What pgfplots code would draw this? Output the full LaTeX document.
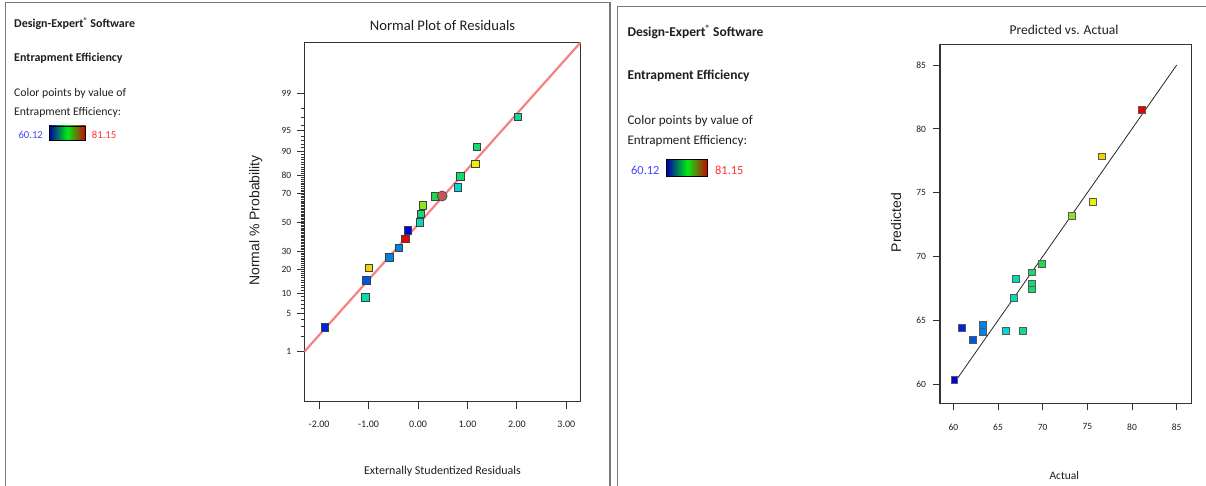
\documentclass[border=0pt]{standalone}
\usepackage{pgfplots}
\pgfplotsset{compat=1.18}
\usepackage{fontspec}
\setmainfont{Carlito}
\newfontfamily\arialfont{Liberation Sans}
\definecolor{txt}{RGB}{30,30,30}
\definecolor{frame}{RGB}{120,120,120}
\definecolor{salmon}{RGB}{245,130,130}
\definecolor{lblue}{RGB}{70,70,255}
\definecolor{lred}{RGB}{255,50,50}
\definecolor{circ}{RGB}{190,90,90}
\definecolor{cbL}{RGB}{0,0,170}
\definecolor{cbM}{RGB}{0,235,20}
\definecolor{cbR}{RGB}{210,0,0}
\pgfplotsset{
  colormap={de}{rgb255=(0,0,225) rgb255=(0,215,230) rgb255=(30,220,50) rgb255=(245,240,0) rgb255=(235,0,0)},
}
\newcommand{\fs}[1]{\fontsize{#1}{#1}\selectfont}
\newcommand{\reg}[1]{\raisebox{0.3em}{\fs{#1}®}}
\begin{document}
\begin{tikzpicture}
\useasboundingbox (0pt,0pt) rectangle (1206pt,-486pt);
% panel frames
\draw[line width=1.3pt, frame] (5.5pt,-490pt) -- (5.5pt,-2.7pt) -- (610pt,-2.7pt) -- (610pt,-490pt);
\draw[line width=1.3pt, frame] (617.5pt,-490pt) -- (617.5pt,-6.7pt) -- (1210pt,-6.7pt);

% ---------- left text block ----------
\node[anchor=west, inner sep=0, txt, font=\fs{12}\bfseries] at (14pt,-23.8pt) {Design-Expert\reg{8} Software};
\node[anchor=west, inner sep=0, txt, font=\fs{12}\bfseries] at (14pt,-58.7pt) {Entrapment Efficiency};
\node[anchor=west, inner sep=0, txt, font=\fs{11.7}] at (14pt,-93.5pt) {Color points by value of};
\node[anchor=west, inner sep=0, txt, font=\fs{11.7}] at (14pt,-112pt) {Entrapment Efficiency:};
\node[anchor=west, inner sep=0, lblue, font=\fs{10.7}] at (18.3pt,-134.7pt) {60.12};
\shade[left color=cbL, right color=cbR, middle color=cbM] (49pt,-126pt) rectangle (85.7pt,-140pt);
\draw[line width=0.8pt, black] (49pt,-126pt) rectangle (85.7pt,-140pt);
\node[anchor=west, inner sep=0, lred, font=\fs{10.7}] at (91.7pt,-134.7pt) {81.15};

% ---------- right text block ----------
\node[anchor=west, inner sep=0, txt, font=\fs{13.5}\bfseries] at (627.3pt,-32pt) {Design-Expert\reg{9} Software};
\node[anchor=west, inner sep=0, txt, font=\fs{13.5}\bfseries] at (627.3pt,-75.8pt) {Entrapment Efficiency};
\node[anchor=west, inner sep=0, txt, font=\fs{13.1}] at (627.3pt,-120.8pt) {Color points by value of};
\node[anchor=west, inner sep=0, txt, font=\fs{13.1}] at (627.3pt,-141.5pt) {Entrapment Efficiency:};
\node[anchor=west, inner sep=0, lblue, font=\fs{12.4}] at (631pt,-170pt) {60.12};
\shade[left color=cbL, right color=cbR, middle color=cbM] (666.7pt,-159.5pt) rectangle (707.7pt,-176pt);
\draw[line width=0.8pt, black] (666.7pt,-159.5pt) rectangle (707.7pt,-176pt);
\node[anchor=west, inner sep=0, lred, font=\fs{12.4}] at (715pt,-170pt) {81.15};

% ---------- left plot ----------
\begin{axis}[
  at={(304.3pt,-401.7pt)}, anchor=south west,
  scale only axis, width=276.4pt, height=359.4pt,
  xmin=-2.30, xmax=3.29, ymin=-3.23, ymax=3.24,
  axis line style={line width=1.2pt, black!80},
  tick align=outside, tick pos=left,
  major tick length=7pt, minor tick length=3.5pt,
  tick style={line width=0.9pt, black!80},
  major tick style={line width=0.9pt, black!80},
  minor tick style={line width=0.7pt, black!80},
  xtick={-2,-1,0,1,2,3},
  xticklabels={-2.00,-1.00,0.00,1.00,2.00,3.00},
  ytick={-2.3263,-1.6449,-1.2816,-0.8416,-0.5244,0,0.5244,0.8416,1.2816,1.6449,2.3263},
  yticklabels={1,5,10,20,30,50,70,80,90,95,99},
  minor ytick={-2.0537,-1.8808,-1.7507,-1.5548,-1.4758,-1.4051,-1.3408,
    -1.2265,-1.1750,-1.1264,-1.0803,-1.0364,-0.9945,-0.9542,-0.9154,-0.8779,
    -0.8064,-0.7722,-0.7388,-0.7063,-0.6745,-0.6433,-0.6128,-0.5828,-0.5534,
    -0.4959,-0.4677,-0.4399,-0.4125,-0.3853,-0.3585,-0.3319,-0.3055,-0.2793,-0.2533,-0.2275,-0.2019,-0.1764,-0.1510,-0.1257,-0.1004,-0.0753,-0.0502,-0.0251,
    0.0251,0.0502,0.0753,0.1004,0.1257,0.1510,0.1764,0.2019,0.2275,0.2533,0.2793,0.3055,0.3319,0.3585,0.3853,0.4125,0.4399,0.4677,0.4959,
    0.5534,0.5828,0.6128,0.6433,0.6745,0.7063,0.7388,0.7722,0.8064,
    0.8779,0.9154,0.9542,0.9945,1.0364,1.0803,1.1264,1.1750,1.2265,
    1.3408,1.4051,1.4758,1.5548,1.7507,1.8808,2.0537},
  xticklabel style={font=\fs{10}, text=txt, yshift=-9pt},
  yticklabel style={font=\fs{9.5}, text=txt, xshift=-2.5pt},
  colormap name=de, point meta min=60.12, point meta max=81.15,
  clip=true,
]
\addplot[salmon, line width=2.2pt] coordinates {(-2.30,-2.33) (3.29,3.24)};
\addplot[scatter, only marks, mark=square*, mark size=3.7pt, point meta=explicit,
  scatter/use mapped color={draw=black!75, fill=mapped color}, line width=0.9pt]
 coordinates {
 (-1.878,-1.894) [60.94]
 (-1.067,-1.356) [66.98]
 (-1.047,-1.050) [62.20]
 (-0.993,-0.827) [76.60]
 (-0.580,-0.630) [63.32]
 (-0.385,-0.462) [63.32]
 (-0.256,-0.300) [81.14]
 (-0.209,-0.145) [60.12]
 (0.041,0.000) [66.79]
 (0.055,0.145) [68.84]
 (0.095,0.300) [73.28]
 (0.353,0.462) [69.92]
 (0.805,0.630) [65.93]
 (0.860,0.827) [68.84]
 (1.164,1.050) [75.63]
 (1.190,1.356) [68.84]
 (2.016,1.894) [67.76]
 };
\addplot[only marks, mark=*, mark size=5pt, mark options={fill=circ, draw=black!70, line width=0.8pt}]
 coordinates {(0.487,0.473)};
\end{axis}
\node[txt, font=\fs{14.6}] at (442.5pt,-25.7pt) {Normal Plot of Residuals};
\node[txt, font=\fs{12}] at (442.5pt,-471.7pt) {Externally Studentized Residuals};
\node[txt, font=\arialfont\fs{14}, rotate=90] at (255.7pt,-220.5pt) {Normal \% Probability};

% ---------- right plot ----------
\begin{axis}[
  at={(940pt,-403.3pt)}, anchor=south west,
  scale only axis, width=251.7pt, height=359pt,
  xmin=58.51, xmax=86.68, ymin=58.51, ymax=86.62,
  axis line style={line width=1.2pt, black!80},
  tick align=outside, tick pos=left,
  major tick length=7pt,
  tick style={line width=0.9pt, black!80},
  major tick style={line width=0.9pt, black!80},
  xtick={60,65,70,75,80,85}, ytick={60,65,70,75,80,85},
  /pgf/number format/assume math mode=true,
  ticklabel style={font=\fs{9.5}, text=txt},
  xticklabel style={yshift=-10pt},
  yticklabel style={xshift=-3.5pt},
  colormap name=de, point meta min=60.12, point meta max=81.15,
]
\addplot[scatter, only marks, mark=square*, mark size=3.4pt, point meta=x,
  scatter/use mapped color={draw=black!65, fill=mapped color}, line width=0.9pt]
 coordinates {
 (60.12,60.34) (60.94,64.41) (62.20,63.44) (63.32,64.62) (63.32,64.09)
 (65.93,64.17) (66.79,66.78) (66.98,68.24) (67.76,64.17) (68.84,68.76)
 (68.84,67.85) (68.84,67.43) (69.92,69.44) (73.28,73.17) (75.63,74.29)
 (76.60,77.84) (81.14,81.46)
 };
\addplot[black!85, line width=0.8pt] coordinates {(60.12,60.12) (85,85)};
\end{axis}
\node[txt, font=\fs{13.5}] at (1064pt,-30pt) {Predicted vs. Actual};
\node[txt, font=\fs{11.5}] at (1064.3pt,-476pt) {Actual};
\node[txt, font=\arialfont\fs{14}, rotate=90] at (896pt,-222.5pt) {Predicted};
\end{tikzpicture}
\end{document}
